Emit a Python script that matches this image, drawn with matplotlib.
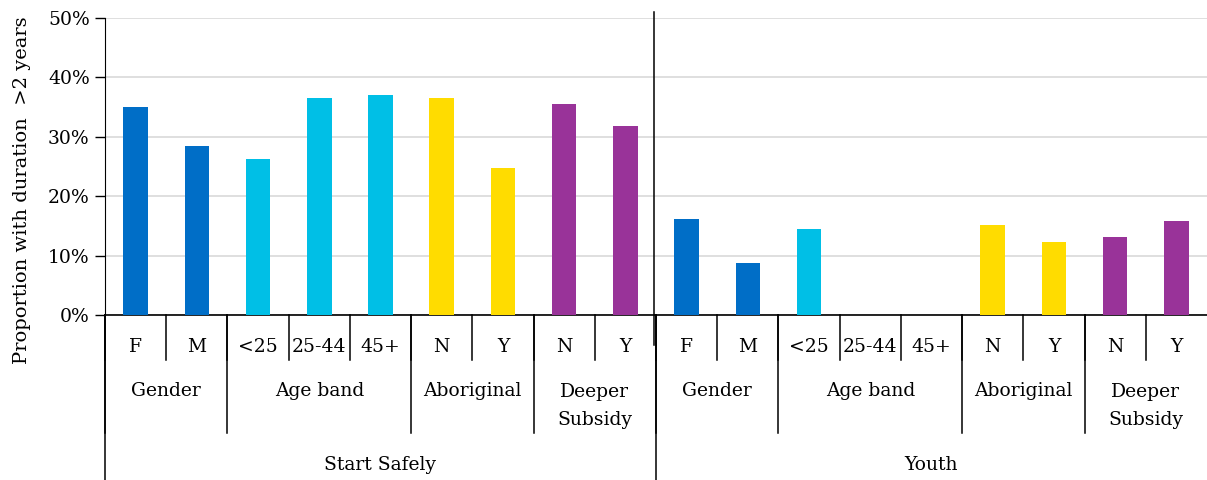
import numpy as np
import matplotlib
matplotlib.use("Agg")
import matplotlib.pyplot as plt
import matplotlib.transforms as mtransforms

plt.rcParams['font.family'] = ['DejaVu Serif']

# categories, three levels
programs = ["Start Safely", "Youth"]
groups = ["Gender", "Age band", "Aboriginal", "Deeper\nSubsidy"]
group_items = [["F", "M"], ["<25", "25-44", "45+"], ["N", "Y"], ["N", "Y"]]
group_colors = ["#006EC7", "#00BFE6", "#FFDC00", "#993399"]

# proportion with duration > 2 years (NaN = no data)
start_safely = [0.351, 0.285, 0.263, 0.365, 0.370, 0.366, 0.248, 0.355, 0.318]
youth = [0.161, 0.087, 0.144, np.nan, np.nan, 0.151, 0.123, 0.131, 0.158]

values = start_safely + youth
labels = []
colors = []
for _ in programs:
    for items, c in zip(group_items, group_colors):
        labels += items
        colors += [c] * len(items)

x = np.arange(len(values))
fs = 13.5

fig = plt.figure(figsize=(12.07, 4.8), dpi=100)
ax = fig.add_axes([105 / 1207, 165 / 480, 1102 / 1207, 297 / 480])

ax.bar(x, values, width=0.4, color=colors, zorder=3)

ax.set_xlim(-0.5, len(values) - 0.5)
ax.set_ylim(0, 0.5)
ticks = np.arange(0, 0.51, 0.1)
ax.set_yticks(ticks)
ax.set_yticklabels([f"{int(round(v * 100))}%" for v in ticks], fontsize=fs)
ax.tick_params(axis='y', length=7, width=1, direction='out', pad=4)
ax.set_xticks([])
ax.grid(axis='y', color='#D9D9D9', linewidth=1.2, zorder=0)
ax.set_axisbelow(True)
for s in ['top', 'right']:
    ax.spines[s].set_visible(False)
ax.spines['left'].set_color('black')
ax.spines['bottom'].set_color('black')
ax.spines['bottom'].set_linewidth(1.2)

ax.set_ylabel("Proportion with duration  >2 years", fontsize=14)
ax.yaxis.set_label_coords(-0.067, 0.42)

trans = mtransforms.blended_transform_factory(ax.transData, ax.transAxes)
line_kw = dict(color='black', linewidth=1.1, transform=trans, clip_on=False)
txt_kw = dict(transform=trans, ha='center', va='center', fontsize=fs,
              clip_on=False)

n = len(values)

# level 1: individual categories
for i in range(n):
    ax.plot([i - 0.5, i - 0.5], [0, -0.152], **line_kw)
for i, lab in enumerate(labels):
    ax.text(i, -0.108, lab, **txt_kw)

# level 2: groups
start = 0
for _ in programs:
    for g, items in zip(groups, group_items):
        end = start + len(items)
        ax.plot([start - 0.5, start - 0.5], [0, -0.397], **line_kw)
        ypos = -0.306 if "\n" in g else -0.256
        ax.text((start + end - 1) / 2, ypos, g, linespacing=1.75, **txt_kw)
        start = end

# level 3: programs
start = 0
n_per = len(start_safely)
for p in programs:
    ax.plot([start - 0.5, start - 0.5], [0, -0.556], **line_kw)
    ax.text(start + (n_per - 1) / 2, -0.505, p, **txt_kw)
    start += n_per

# divider between the two programs
ax.plot([n_per - 0.53, n_per - 0.53], [1.02, -0.1], **line_kw)

fig.savefig("out.png", dpi=100)
